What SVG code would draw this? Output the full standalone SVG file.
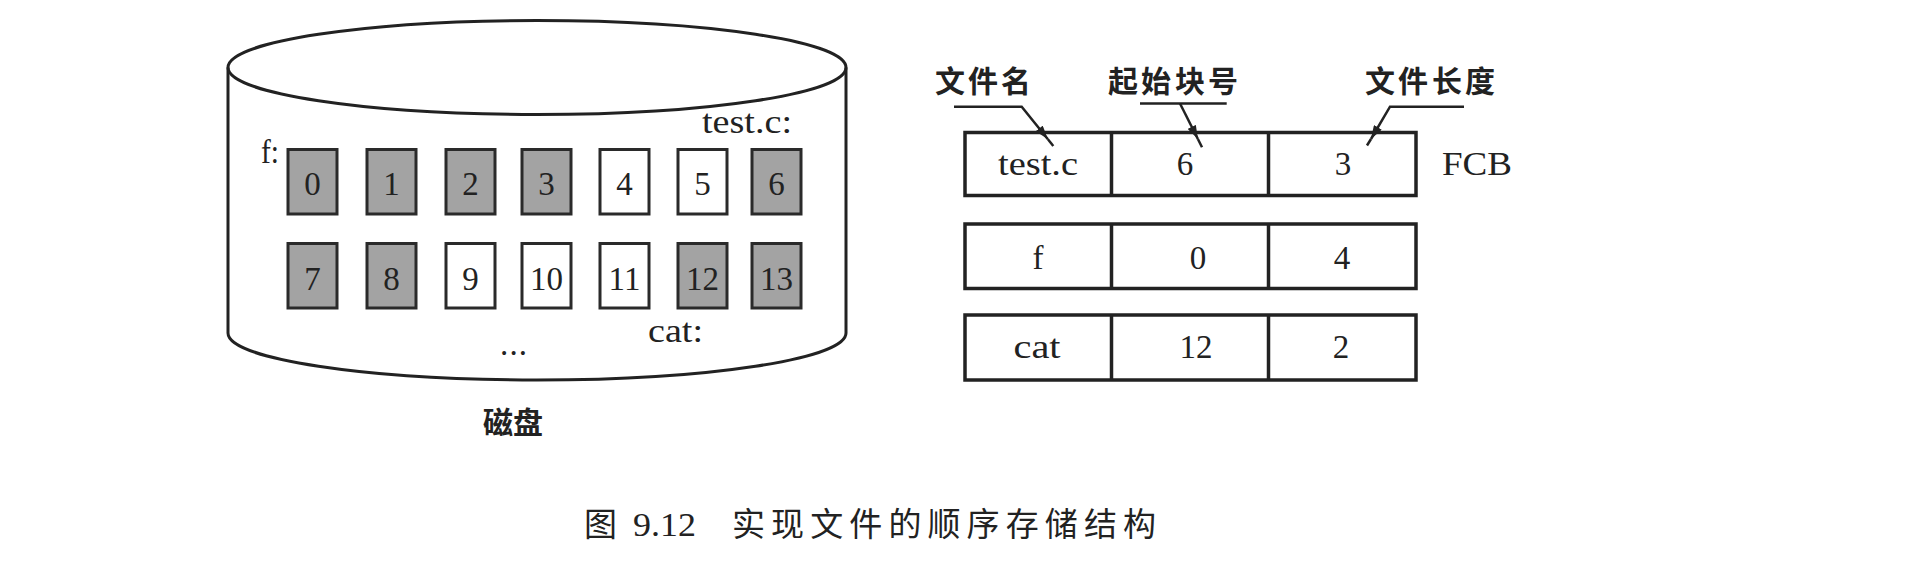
<svg xmlns="http://www.w3.org/2000/svg" width="1922" height="562" viewBox="0 0 1922 562">
<defs>
<style>
.cyl{fill:none;stroke:#222;stroke-width:3}
.blk{stroke:#2a2a2a;stroke-width:3}
.used{fill:#a3a3a3}
.free{fill:#fff}
.num{font-family:"Liberation Serif",serif;font-size:33px;fill:#222;text-anchor:middle}
.ser{font-family:"Liberation Serif",serif;font-size:33px;fill:#222}
.cjk{font-family:"Liberation Sans","Noto Sans CJK SC",sans-serif;font-weight:bold;font-size:30px;fill:#222}
.cap{font-family:"Liberation Serif","Noto Sans CJK SC",serif;font-size:33px;fill:#222}
.cell{fill:none;stroke:#222;stroke-width:3.5}
.lead{fill:none;stroke:#222;stroke-width:2.5}
</style>
<marker id="arr" viewBox="0 0 12 8" refX="12" refY="4" markerWidth="14" markerHeight="9" markerUnits="userSpaceOnUse" orient="auto">
<path d="M0,0 L12,4 L0,8 z" fill="#222"/>
</marker>
</defs>
<rect width="1922" height="562" fill="#fff"/>

<g id="disk">
<ellipse class="cyl" cx="537" cy="67.5" rx="309" ry="47"/>
<line class="cyl" x1="228" y1="67.5" x2="228" y2="333"/>
<line class="cyl" x1="846" y1="67.5" x2="846" y2="333"/>
<path class="cyl" d="M228,333 A309,47 0 0,0 846,333"/>
<text class="ser" x="261" y="163" textLength="18" lengthAdjust="spacingAndGlyphs">f:</text>
<text class="ser" x="702" y="133" textLength="90" lengthAdjust="spacingAndGlyphs">test.c:</text>
<text class="ser" x="648" y="342" textLength="55" lengthAdjust="spacingAndGlyphs">cat:</text>
<text class="ser" x="500" y="355" textLength="27">...</text>
<text class="cjk" x="483" y="433" font-size="32">磁盘</text>
</g>

<g id="block-0"><rect class="blk used" x="288" y="149.5" width="49" height="64.5"/><text class="num" x="312.5" y="195">0</text></g>
<g id="block-1"><rect class="blk used" x="367" y="149.5" width="49" height="64.5"/><text class="num" x="391.5" y="195">1</text></g>
<g id="block-2"><rect class="blk used" x="446" y="149.5" width="49" height="64.5"/><text class="num" x="470.5" y="195">2</text></g>
<g id="block-3"><rect class="blk used" x="522" y="149.5" width="49" height="64.5"/><text class="num" x="546.5" y="195">3</text></g>
<g id="block-4"><rect class="blk free" x="600" y="149.5" width="49" height="64.5"/><text class="num" x="624.5" y="195">4</text></g>
<g id="block-5"><rect class="blk free" x="678" y="149.5" width="49" height="64.5"/><text class="num" x="702.5" y="195">5</text></g>
<g id="block-6"><rect class="blk used" x="752" y="149.5" width="49" height="64.5"/><text class="num" x="776.5" y="195">6</text></g>
<g id="block-7"><rect class="blk used" x="288" y="243.5" width="49" height="64.5"/><text class="num" x="312.5" y="290">7</text></g>
<g id="block-8"><rect class="blk used" x="367" y="243.5" width="49" height="64.5"/><text class="num" x="391.5" y="290">8</text></g>
<g id="block-9"><rect class="blk free" x="446" y="243.5" width="49" height="64.5"/><text class="num" x="470.5" y="290">9</text></g>
<g id="block-10"><rect class="blk free" x="522" y="243.5" width="49" height="64.5"/><text class="num" x="546.5" y="290">10</text></g>
<g id="block-11"><rect class="blk free" x="600" y="243.5" width="49" height="64.5"/><text class="num" x="624.5" y="290">11</text></g>
<g id="block-12"><rect class="blk used" x="678" y="243.5" width="49" height="64.5"/><text class="num" x="702.5" y="290">12</text></g>
<g id="block-13"><rect class="blk used" x="752" y="243.5" width="49" height="64.5"/><text class="num" x="776.5" y="290">13</text></g>

<g id="fcb-test">
<rect class="cell" x="965" y="132.5" width="451" height="63"/>
<line class="cell" x1="1111.5" y1="132.5" x2="1111.5" y2="195.5"/>
<line class="cell" x1="1268.5" y1="132.5" x2="1268.5" y2="195.5"/>
<text class="num" x="1038" y="175" textLength="80" lengthAdjust="spacingAndGlyphs">test.c</text>
<text class="num" x="1185" y="175">6</text>
<text class="num" x="1343" y="175">3</text>
</g>
<g id="fcb-f">
<rect class="cell" x="965" y="224" width="451" height="64.5"/>
<line class="cell" x1="1111.5" y1="224" x2="1111.5" y2="288.5"/>
<line class="cell" x1="1268.5" y1="224" x2="1268.5" y2="288.5"/>
<text class="num" x="1038" y="269">f</text>
<text class="num" x="1198" y="269">0</text>
<text class="num" x="1342" y="269">4</text>
</g>
<g id="fcb-cat">
<rect class="cell" x="965" y="315" width="451" height="65"/>
<line class="cell" x1="1111.5" y1="315" x2="1111.5" y2="380"/>
<line class="cell" x1="1268.5" y1="315" x2="1268.5" y2="380"/>
<text class="num" x="1037" y="358" textLength="47" lengthAdjust="spacingAndGlyphs">cat</text>
<text class="num" x="1196" y="358">12</text>
<text class="num" x="1341" y="358">2</text>
</g>
<g id="fcb-label"><text class="ser" x="1442" y="175" textLength="70" lengthAdjust="spacingAndGlyphs">FCB</text></g>

<g id="head-name"><text class="cjk" x="935 968 1001" y="92">文件名</text></g>
<g id="head-start"><text class="cjk" x="1108 1141 1175 1208" y="92">起始块号</text></g>
<g id="head-len"><text class="cjk" x="1365 1398 1432 1465" y="92">文件长度</text></g>

<g id="connectors">
<path class="lead" d="M954,106.7 H1021.7 L1047.7,139" marker-end="url(#arr)"/>
<path class="lead" d="M1047.7,139 L1053.3,146"/>
<path class="lead" d="M1140,103.5 H1226.7"/>
<path class="lead" d="M1180,103.5 L1197.9,139" marker-end="url(#arr)"/>
<path class="lead" d="M1197.9,139 L1202,147.3"/>
<path class="lead" d="M1464,106.7 H1390 L1371,139" marker-end="url(#arr)"/>
<path class="lead" d="M1371,139 L1367,145.5"/>
</g>

<g id="caption">
<text class="cap" x="584" y="536">图</text>
<text class="cap" x="633" y="536" font-size="35" textLength="63" lengthAdjust="spacingAndGlyphs">9.12</text>
<text class="cap" x="732 771.1 810.2 849.3 888.4 927.5 966.6 1005.7 1044.8 1083.9 1123" y="536">实现文件的顺序存储结构</text>
</g>
</svg>
